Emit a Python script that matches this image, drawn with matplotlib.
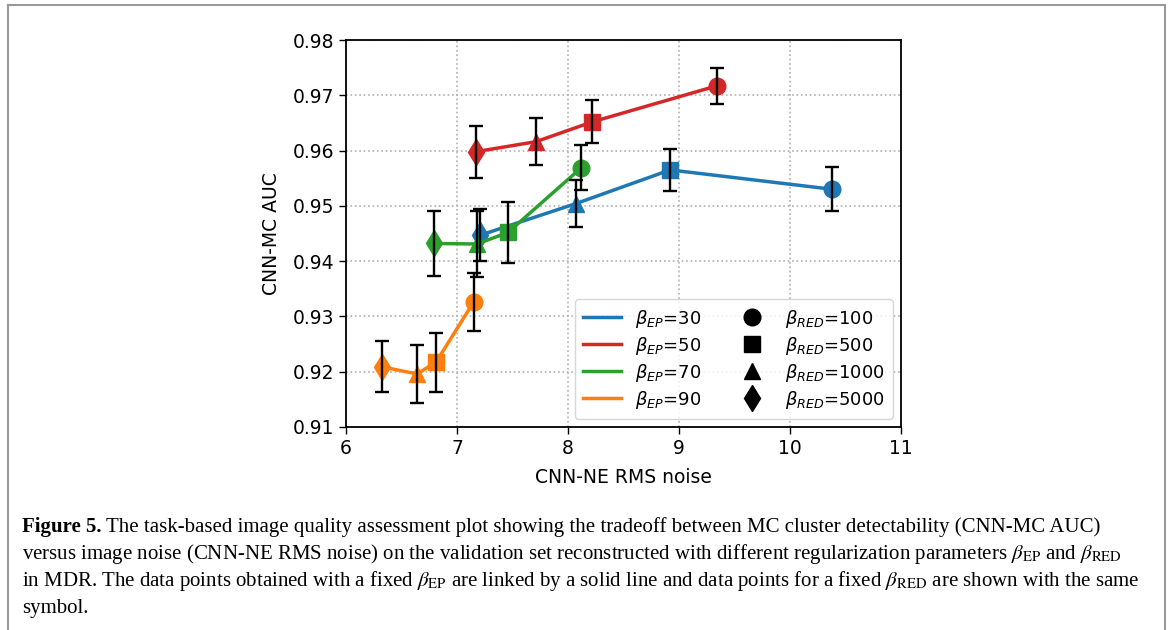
import matplotlib
matplotlib.use("Agg")
import matplotlib.pyplot as plt
from matplotlib.lines import Line2D

# ---------------------------------------------------------------- data
ep_values = [30, 50, 70, 90]
red_values = [100, 500, 1000, 5000]
ep_colors = ["#1f77b4", "#d62728", "#2ca02c", "#ff7f0e"]
red_markers = ["o", "s", "^", "d"]
marker_sizes = [12, 11.5, 12, 13]

# per beta_EP group, points ordered by beta_RED = 100, 500, 1000, 5000
noise_ep30 = [10.38, 8.92, 8.07, 7.21]
auc_ep30 = [0.9530, 0.9565, 0.9504, 0.9447]
err_ep30 = [0.0040, 0.0038, 0.0042, 0.0047]

noise_ep50 = [9.34, 8.22, 7.71, 7.17]
auc_ep50 = [0.9717, 0.9652, 0.9616, 0.9598]
err_ep50 = [0.0032, 0.0039, 0.0043, 0.0047]

noise_ep70 = [8.12, 7.46, 7.18, 6.79]
auc_ep70 = [0.9569, 0.9452, 0.9431, 0.9432]
err_ep70 = [0.0041, 0.0055, 0.0060, 0.0058]

noise_ep90 = [7.15, 6.81, 6.64, 6.32]
auc_ep90 = [0.9326, 0.9217, 0.9196, 0.9209]
err_ep90 = [0.0052, 0.0053, 0.0052, 0.0046]

noise = [noise_ep30, noise_ep50, noise_ep70, noise_ep90]
auc = [auc_ep30, auc_ep50, auc_ep70, auc_ep90]
err = [err_ep30, err_ep50, err_ep70, err_ep90]

caption_lines = [
    "The task-based image quality assessment plot showing the tradeoff between MC cluster detectability (CNN-MC AUC)",
    r"versus image noise (CNN-NE RMS noise) on the validation set reconstructed with different regularization parameters $\beta_{\rm EP}$ and $\beta_{\rm RED}$",
    r"in MDR. The data points obtained with a fixed $\beta_{\rm EP}$ are linked by a solid line and data points for a fixed $\beta_{\rm RED}$ are shown with the same",
    "symbol.",
]

# ---------------------------------------------------------------- figure
W, H = 1171, 630
fig = plt.figure(figsize=(W / 100, H / 100), dpi=100)
ax = fig.add_axes([346 / W, 1 - 427 / H, 555 / W, 387 / H])

for i in range(len(ep_values)):
    ax.plot(noise[i], auc[i], color=ep_colors[i], lw=2.5, zorder=2)
    for j in range(len(red_values)):
        ax.plot(noise[i][j], auc[i][j], marker=red_markers[j], color=ep_colors[i],
                ms=marker_sizes[j], ls="none", zorder=2)
    ax.errorbar(noise[i], auc[i], yerr=err[i], fmt="none", ecolor="black",
                elinewidth=1.7, capsize=5, capthick=1.7, zorder=3)

ax.set_xlim(6, 11)
ax.set_ylim(0.91, 0.98)
ax.set_xticks([6, 7, 8, 9, 10, 11])
ax.set_yticks([0.91, 0.92, 0.93, 0.94, 0.95, 0.96, 0.97, 0.98])
ax.grid(True, linestyle=":", color="#b0b0b0", lw=1.2)
ax.tick_params(labelsize=13.5, length=5, width=1)
ax.set_xlabel("CNN-NE RMS noise", fontsize=13.5, labelpad=7)
ax.set_ylabel("CNN-MC AUC", fontsize=13.5, labelpad=8)
for s in ax.spines.values():
    s.set_linewidth(1.3)

handles = [Line2D([], [], color=c, lw=2.5) for c in ep_colors]
handles += [Line2D([], [], color="black", marker=m, ls="none", ms=ms)
            for m, ms in zip(red_markers, marker_sizes)]
labels = [r"$\beta_{EP}$=%d" % v for v in ep_values]
labels += [r"$\beta_{RED}$=%d" % v for v in red_values]
ax.legend(handles, labels, ncol=2, loc="lower right", fontsize=13,
          labelspacing=0.28, columnspacing=1.8, handlelength=2.1,
          handletextpad=0.75, borderpad=0.45, borderaxespad=0.45)

# ---------------------------------------------------------------- caption + frame
cap_kw = dict(fontsize=15, family="Liberation Serif", va="baseline", math_fontfamily="stix")
y0 = 532
bold = fig.text(22 / W, 1 - y0 / H, "Figure 5.", fontweight="bold", **cap_kw)
fig.canvas.draw()
bb = bold.get_window_extent()
fig.text((bb.x1 + 5) / W, 1 - y0 / H, caption_lines[0], **cap_kw)
for k, line in enumerate(caption_lines[1:], start=1):
    fig.text(22 / W, 1 - (y0 + 27 * k) / H, line, **cap_kw)

frame_kw = dict(color="#999999", lw=1.5, transform=fig.transFigure)
fig.add_artist(Line2D([8 / W, 8 / W], [0, 1 - 5 / H], **frame_kw))
fig.add_artist(Line2D([8 / W, 1165 / W], [1 - 5 / H, 1 - 5 / H], **frame_kw))
fig.add_artist(Line2D([1165 / W, 1165 / W], [0, 1 - 5 / H], **frame_kw))

fig.savefig("out.png", dpi=100)
